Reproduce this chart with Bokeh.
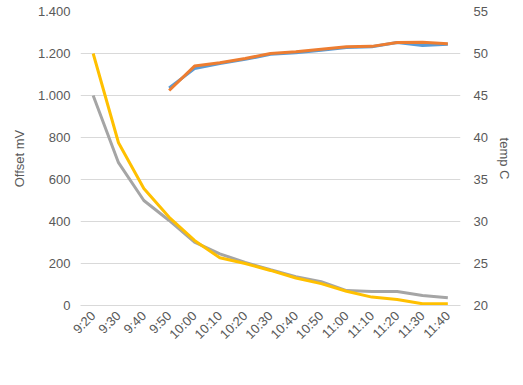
import math
from bokeh.plotting import figure
from bokeh.models import Range1d, LinearAxis, Legend, LegendItem, FixedTicker
from bokeh.embed import file_html
from bokeh.resources import INLINE

nan = float("nan")

times = ["9:20", "9:30", "9:40", "9:50", "10:00", "10:10", "10:20", "10:30",
         "10:40", "10:50", "11:00", "11:10", "11:20", "11:30", "11:40"]
offset_l = [1000, 680, 500, 405, 302, 246, 205, 170, 137, 113, 71, 67, 67, 48, 37]
offset_r = [1200, 775, 557, 420, 310, 227, 200, 167, 131, 104, 68, 40, 29, 8, 8]
temp_l = [nan, nan, nan, 45.9, 48.2, 48.8, 49.3, 49.9, 50.1, 50.4, 50.7, 50.8, 51.3, 50.95, 51.1]
temp_r = [nan, nan, nan, 45.6, 48.5, 48.9, 49.4, 50.0, 50.2, 50.5, 50.8, 50.85, 51.3, 51.35, 51.15]

left_ticks = [0, 200, 400, 600, 800, 1000, 1200, 1400]
left_tick_labels = ["0", "200", "400", "600", "800", "1.000", "1.200", "1.400"]
right_ticks = [20, 25, 30, 35, 40, 45, 50, 55]

FONT = "Liberation Sans"
TXT = "#595959"
FS = "13px"

p = figure(width=515, height=372, frame_width=380, frame_height=294,
           x_range=times, y_range=Range1d(0, 1400),
           output_backend="svg", toolbar_location=None,
           min_border_left=80, min_border_right=55, min_border_top=11, min_border_bottom=0)
p.extra_y_ranges = {"temp": Range1d(20, 55)}
p.outline_line_color = None
p.background_fill_color = "white"

p.xgrid.grid_line_color = None
p.ygrid.grid_line_color = "#d9d9d9"
p.ygrid.ticker = FixedTicker(ticks=left_ticks)

# left axis
la = p.yaxis[0]
la.ticker = FixedTicker(ticks=left_ticks)
la.major_label_overrides = {t: l for t, l in zip(left_ticks, left_tick_labels)}
la.axis_label = "Offset mV"
la.axis_line_color = None
la.major_tick_line_color = None
la.major_tick_out = 0
la.minor_tick_line_color = None
la.major_label_standoff = 10
la.axis_label_standoff = 8
la.major_label_text_font = FONT
la.major_label_text_font_size = FS
la.major_label_text_color = TXT
la.axis_label_text_font = FONT
la.axis_label_text_font_size = FS
la.axis_label_text_font_style = "normal"
la.axis_label_text_color = TXT

# right axis
ra = LinearAxis(y_range_name="temp", ticker=FixedTicker(ticks=right_ticks), axis_label="temp C")
ra.axis_line_color = None
ra.major_tick_line_color = None
ra.major_tick_out = 0
ra.minor_tick_line_color = None
ra.major_label_standoff = 13
ra.axis_label_standoff = 6
ra.major_label_text_font = FONT
ra.major_label_text_font_size = FS
ra.major_label_text_color = TXT
ra.axis_label_text_font = FONT
ra.axis_label_text_font_size = FS
ra.axis_label_text_font_style = "normal"
ra.axis_label_text_color = TXT
p.add_layout(ra, "right")

# x axis
xa = p.xaxis[0]
xa.axis_line_color = "#d9d9d9"
xa.major_tick_line_color = None
xa.major_tick_out = 0
xa.minor_tick_line_color = None
xa.major_label_orientation = math.pi / 4
xa.major_label_standoff = 8
xa.major_label_text_font = FONT
xa.major_label_text_font_size = FS
xa.major_label_text_color = TXT

r1 = p.line(times, offset_l, line_color="#a5a5a5", line_width=3)
r2 = p.line(times, offset_r, line_color="#ffc000", line_width=3)
r3 = p.line(times, temp_l, line_color="#5b9bd5", line_width=3, y_range_name="temp")
r4 = p.line(times, temp_r, line_color="#ed7d31", line_width=3, y_range_name="temp")

legend = Legend(items=[LegendItem(label="Offset L", renderers=[r1]),
                       LegendItem(label="Offset R", renderers=[r2]),
                       LegendItem(label="Temp L", renderers=[r3]),
                       LegendItem(label="Temp R", renderers=[r4])],
                orientation="horizontal", location=(2, 27),
                label_text_font=FONT, label_text_font_size=FS, label_text_color=TXT,
                glyph_width=30, glyph_height=14, label_height=14, label_standoff=3, spacing=16,
                border_line_color=None, background_fill_alpha=0, padding=0, margin=0)
p.add_layout(legend, "below")

open("out.html", "w").write(file_html(p, INLINE))
